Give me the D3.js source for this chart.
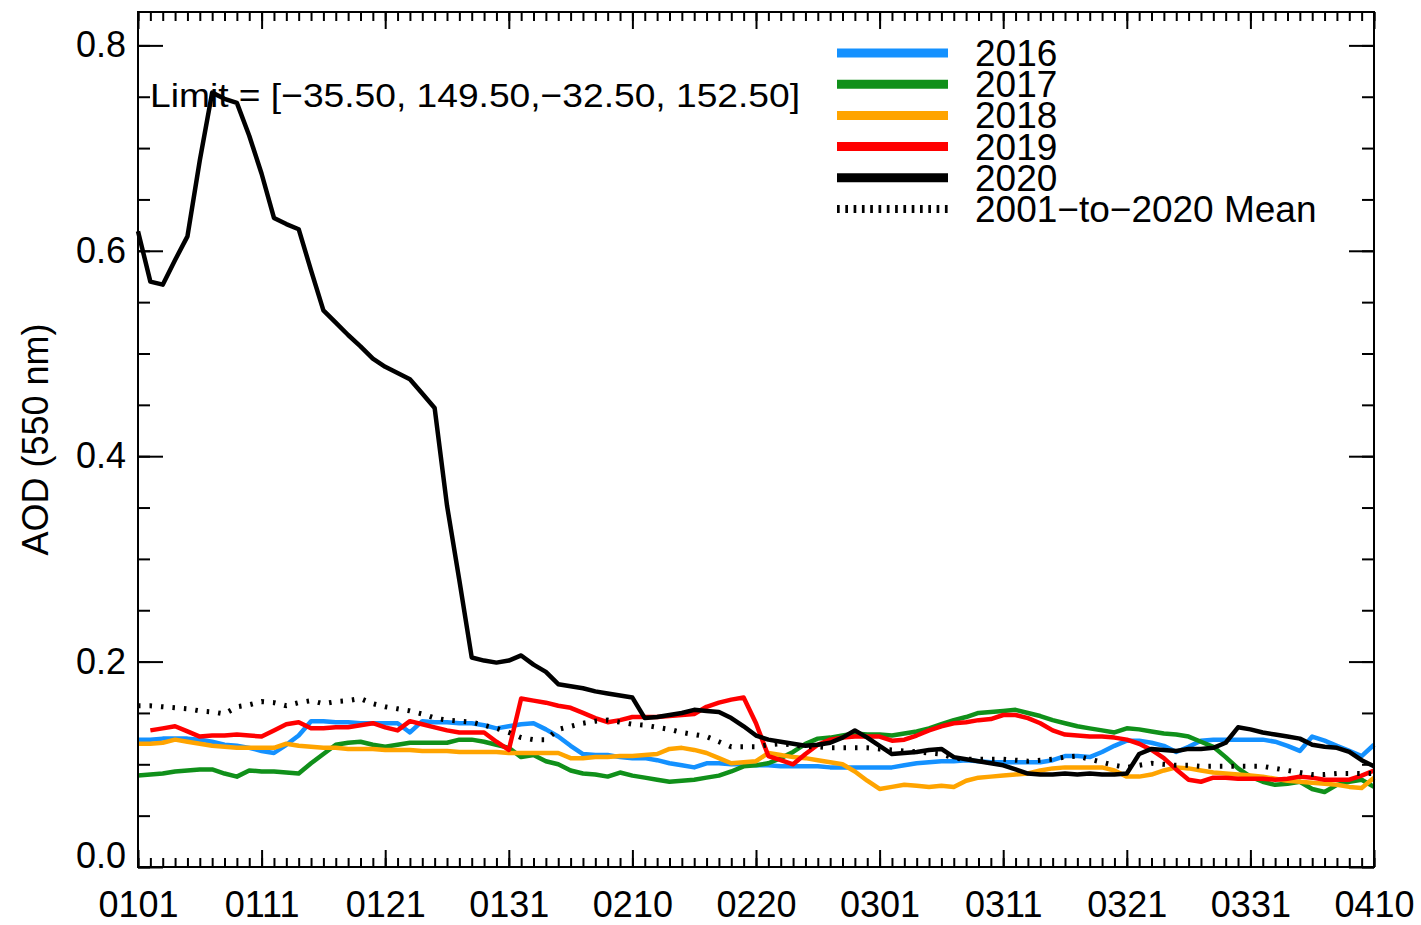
<!DOCTYPE html>
<html><head><meta charset="utf-8">
<script src="https://cdn.jsdelivr.net/npm/d3@7"></script>
<style>body{margin:0;background:#fff;} svg{display:block;font-family:"Liberation Sans",Arial,Helvetica,sans-serif;}</style>
</head><body>
<script>
const days = d3.range(0, 101);
const xTickDays = [0,10,20,30,40,50,60,70,80,90,100];
const xTickLabels = ["0101","0111","0121","0131","0210","0220","0301","0311","0321","0331","0410"];
const yTicks = [0.0,0.2,0.4,0.6,0.8];
const yTickLabels = ["0.0","0.2","0.4","0.6","0.8"];
const seriesNames = ["2016","2017","2018","2019","2020","2001\u2212to\u22122020 Mean"];

const aod2016 = [0.124,0.124,0.125,0.125,0.125,0.124,0.122,0.119,0.118,0.116,0.113,0.111,0.119,0.128,0.142,0.142,0.141,0.141,0.140,0.140,0.140,0.140,0.131,0.142,0.141,0.141,0.140,0.140,0.138,0.135,0.137,0.139,0.140,0.134,0.127,0.118,0.110,0.109,0.109,0.107,0.106,0.106,0.104,0.101,0.099,0.097,0.101,0.101,0.100,0.100,0.099,0.099,0.098,0.098,0.098,0.098,0.097,0.097,0.097,0.097,0.097,0.097,0.099,0.101,0.102,0.103,0.103,0.104,0.103,0.102,0.102,0.102,0.102,0.102,0.104,0.108,0.108,0.107,0.112,0.118,0.123,0.123,0.121,0.118,0.112,0.117,0.123,0.124,0.124,0.124,0.124,0.124,0.122,0.118,0.113,0.127,0.123,0.118,0.113,0.108,0.119];
const aod2017 = [0.089,0.090,0.091,0.093,0.094,0.095,0.095,0.091,0.088,0.094,0.093,0.093,0.092,0.091,0.101,0.110,0.119,0.121,0.122,0.119,0.117,0.119,0.121,0.121,0.121,0.121,0.124,0.124,0.122,0.119,0.116,0.107,0.109,0.103,0.100,0.094,0.091,0.090,0.088,0.092,0.089,0.087,0.085,0.083,0.084,0.085,0.087,0.089,0.093,0.098,0.099,0.101,0.106,0.112,0.120,0.125,0.126,0.128,0.130,0.129,0.129,0.128,0.130,0.132,0.135,0.139,0.143,0.146,0.150,0.151,0.152,0.153,0.150,0.147,0.143,0.140,0.137,0.135,0.133,0.131,0.135,0.134,0.132,0.130,0.129,0.127,0.122,0.117,0.107,0.096,0.088,0.083,0.080,0.081,0.083,0.076,0.073,0.080,0.083,0.085,0.078];
const aod2018 = [0.120,0.120,0.121,0.124,0.122,0.120,0.118,0.117,0.116,0.116,0.116,0.116,0.120,0.118,0.117,0.116,0.116,0.115,0.115,0.115,0.114,0.114,0.114,0.113,0.113,0.113,0.112,0.112,0.112,0.112,0.111,0.111,0.111,0.111,0.111,0.106,0.106,0.107,0.107,0.108,0.108,0.109,0.110,0.115,0.116,0.114,0.111,0.106,0.101,0.102,0.103,0.111,0.109,0.107,0.106,0.104,0.102,0.100,0.093,0.084,0.076,0.078,0.080,0.079,0.078,0.079,0.078,0.084,0.087,0.088,0.089,0.090,0.091,0.094,0.096,0.097,0.097,0.097,0.097,0.094,0.088,0.088,0.090,0.094,0.097,0.096,0.094,0.092,0.091,0.090,0.089,0.088,0.086,0.084,0.083,0.082,0.081,0.080,0.078,0.077,0.087];
const aod2019 = [null,0.133,0.135,0.137,0.132,0.127,0.128,0.128,0.129,0.128,0.127,0.133,0.139,0.141,0.135,0.135,0.136,0.136,0.138,0.140,0.136,0.133,0.142,0.139,0.136,0.133,0.131,0.131,0.131,0.122,0.114,0.164,0.162,0.160,0.157,0.155,0.150,0.145,0.141,0.143,0.146,0.146,0.146,0.147,0.148,0.149,0.156,0.160,0.163,0.165,0.140,0.108,0.104,0.100,0.110,0.119,0.124,0.126,0.127,0.127,0.127,0.123,0.124,0.128,0.133,0.137,0.140,0.141,0.143,0.144,0.148,0.148,0.145,0.140,0.133,0.129,0.128,0.127,0.127,0.126,0.124,0.120,0.114,0.106,0.095,0.085,0.083,0.087,0.087,0.086,0.086,0.086,0.085,0.086,0.088,0.087,0.085,0.085,0.085,0.089,0.094];
const aod2020 = [0.619,0.570,0.567,0.591,0.614,0.688,0.754,0.748,0.744,0.712,0.675,0.632,0.626,0.621,0.581,0.542,0.530,0.518,0.507,0.495,0.487,0.481,0.475,0.461,0.447,0.352,0.279,0.204,0.201,0.199,0.201,0.206,0.197,0.190,0.178,0.176,0.174,0.171,0.169,0.167,0.165,0.145,0.146,0.148,0.150,0.153,0.152,0.151,0.145,0.137,0.128,0.124,0.122,0.120,0.118,0.119,0.121,0.126,0.133,0.126,0.118,0.110,0.111,0.112,0.114,0.115,0.107,0.105,0.103,0.101,0.099,0.095,0.091,0.090,0.090,0.091,0.090,0.091,0.090,0.090,0.091,0.110,0.115,0.114,0.113,0.115,0.115,0.116,0.121,0.136,0.134,0.131,0.129,0.127,0.125,0.119,0.117,0.116,0.112,0.104,0.098];
const aodMean = [0.157,0.157,0.156,0.155,0.154,0.152,0.151,0.149,0.156,0.158,0.161,0.160,0.157,0.160,0.162,0.159,0.161,0.162,0.164,0.159,0.156,0.154,0.152,0.149,0.145,0.143,0.142,0.141,0.138,0.135,0.131,0.126,0.124,0.124,0.134,0.137,0.140,0.142,0.143,0.141,0.139,0.138,0.136,0.134,0.131,0.129,0.127,0.122,0.117,0.117,0.117,0.119,0.120,0.119,0.117,0.117,0.116,0.116,0.116,0.116,0.115,0.114,0.113,0.112,0.111,0.110,0.106,0.105,0.105,0.105,0.105,0.104,0.103,0.104,0.105,0.107,0.108,0.105,0.102,0.099,0.097,0.099,0.101,0.100,0.099,0.099,0.098,0.098,0.098,0.098,0.098,0.098,0.096,0.094,0.092,0.090,0.090,0.091,0.091,0.091,0.091];

const W = 1421, H = 925;
const L = 138, R = 1374, T = 12, B = 867;
const svg = d3.select("body").append("svg").attr("width", W).attr("height", H);
const x = d3.scaleLinear().domain([0, 100]).range([L, R]);
const y = d3.scaleLinear().domain([0, 0.8325]).range([B, T]);

const colors = ["#1491ff", "#10901a", "#ffa400", "#ff0000", "#000000", "#000000"];
const allSeries = [aod2016, aod2017, aod2018, aod2019, aod2020, aodMean];

const line = d3.line().defined(d => d[1] != null).x(d => x(d[0])).y(d => y(d[1]));
const gLines = svg.append("g");
allSeries.forEach((vals, i) => {
  const p = gLines.append("path")
    .datum(days.map((d, j) => [d, vals[j]]))
    .attr("d", line)
    .attr("fill", "none")
    .attr("stroke", colors[i])
    .attr("stroke-width", 4.5)
    .attr("stroke-linejoin", "round");
  if (i === 5) p.attr("stroke-dasharray", "2.5,9").attr("stroke-width", 5).attr("stroke-linejoin", "miter");
});

const fs = 36;
const ax = svg.append("g");
ax.append("rect").attr("x", L).attr("y", T).attr("width", R - L).attr("height", B - T)
  .attr("fill", "none").attr("stroke", "#000").attr("stroke-width", 2);

const minorX = d3.range(0, 101);
const xb = d3.axisBottom(x).tickValues(minorX).tickSize(-9).tickFormat("");
const xt = d3.axisTop(x).tickValues(minorX).tickSize(-9).tickFormat("");
const xbM = d3.axisBottom(x).tickValues(xTickDays).tickSize(-17).tickFormat((d, i) => xTickLabels[i]).tickPadding(24);
const xtM = d3.axisTop(x).tickValues(xTickDays).tickSize(-17).tickFormat("");
[[xb,B],[xbM,B],[xt,T],[xtM,T]].forEach(([a,pos]) => {
  const g = ax.append("g").attr("transform", `translate(0,${pos})`).call(a);
  g.select(".domain").remove();
  g.selectAll("line").attr("stroke", "#000").attr("stroke-width", 2);
  g.selectAll("text").attr("font-size", fs).attr("fill", "#000").attr("font-family", "Liberation Sans, Arial, sans-serif");
});

const minorY = d3.range(0, 17).map(i => i * 0.05);
const yl = d3.axisLeft(y).tickValues(minorY).tickSize(-12).tickFormat("");
const ylM = d3.axisLeft(y).tickValues(yTicks).tickSize(-25).tickFormat((d, i) => yTickLabels[i]).tickPadding(12);
const yr = d3.axisRight(y).tickValues(minorY).tickSize(-12).tickFormat("");
const yrM = d3.axisRight(y).tickValues(yTicks).tickSize(-25).tickFormat("");
[[yl,L],[ylM,L],[yr,R],[yrM,R]].forEach(([a,pos]) => {
  const g = ax.append("g").attr("transform", `translate(${pos},0)`).call(a);
  g.select(".domain").remove();
  g.selectAll("line").attr("stroke", "#000").attr("stroke-width", 2);
  g.selectAll("text").attr("font-size", fs).attr("fill", "#000").attr("font-family", "Liberation Sans, Arial, sans-serif");
  g.selectAll(".tick").filter(d => d === 0).select("text").attr("dy", "0em");
});

svg.append("text").attr("transform", `translate(48,${(322+557)/2}) rotate(-90)`)
  .attr("text-anchor", "middle").attr("font-size", 36).text("AOD (550 nm)");

svg.append("text").attr("x", 150).attr("y", 107).attr("font-size", 34)
  .attr("textLength", 650).attr("lengthAdjust", "spacingAndGlyphs")
  .text("Limit = [\u221235.50, 149.50,\u221232.50, 152.50]");

const lg = svg.append("g");
const legY0 = 53, legDy = 31.2;
seriesNames.forEach((n, i) => {
  const yy = legY0 + i * legDy;
  const ln = lg.append("line").attr("x1", 837).attr("x2", 948).attr("y1", yy).attr("y2", yy)
    .attr("stroke", colors[i]).attr("stroke-width", i === 5 ? 8 : 9);
  if (i === 5) ln.attr("stroke-dasharray", "2.7,5.6");
  lg.append("text").attr("x", 975).attr("y", yy + 13).attr("font-size", 37).text(n);
});
</script>
</body></html>
